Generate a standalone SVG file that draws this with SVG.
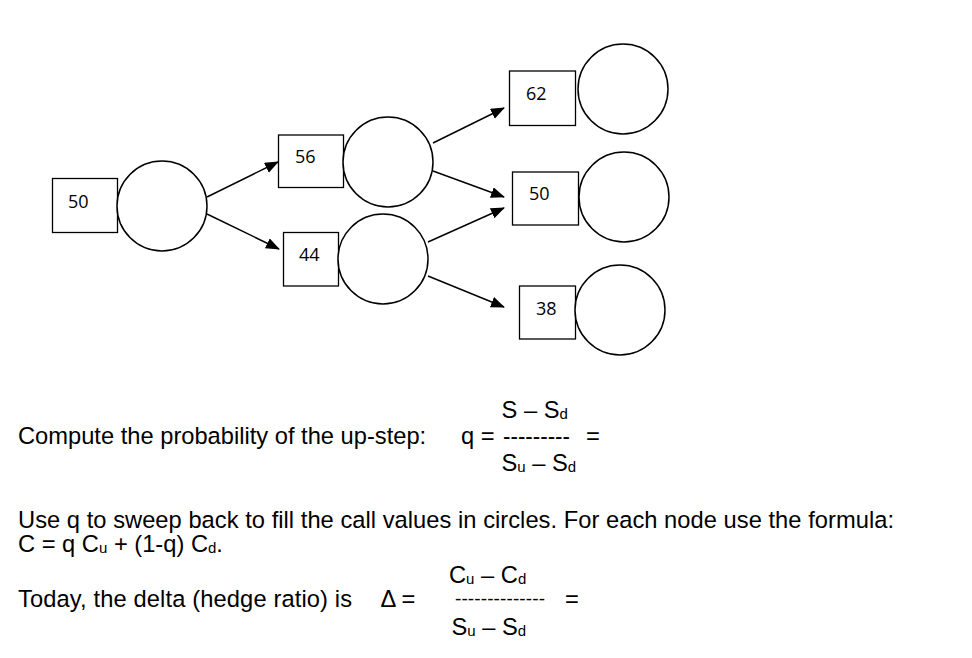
<svg xmlns="http://www.w3.org/2000/svg" width="972" height="658" viewBox="0 0 972 658">
<style>
.box{fill:#fff;stroke:#000;stroke-width:1.3}
.cir{fill:#fff;stroke:#000;stroke-width:1.5}
.num{font-family:"Open Sans","Noto Sans","DejaVu Sans",sans-serif;font-size:18px;fill:#000}
.txt{font-family:"Liberation Sans",Arial,sans-serif;font-size:23.7px;fill:#000}
.sub{font-size:15px}
.dash{font-family:"Liberation Sans",Arial,sans-serif;font-size:19px;fill:#000}
.edge{stroke:#000;stroke-width:1.4;fill:none;marker-end:url(#ah)}
</style>
<defs>
<marker id="ah" markerUnits="userSpaceOnUse" markerWidth="14" markerHeight="12" refX="13" refY="5.5" orient="auto" viewBox="0 0 14 12">
<path d="M0,0 L14,5.5 L0,11 z" fill="#000"/>
</marker>
</defs>
<rect width="972" height="658" fill="#fff"/>
<g id="connectors">
<line class="edge" x1="207" y1="197" x2="278" y2="162"/>
<line class="edge" x1="207" y1="214" x2="279" y2="249"/>
<line class="edge" x1="433" y1="143" x2="504" y2="108"/>
<line class="edge" x1="433" y1="171" x2="504" y2="197"/>
<line class="edge" x1="428" y1="242" x2="504" y2="208"/>
<line class="edge" x1="428" y1="276" x2="504" y2="307"/>
</g>
<g id="n0">
<rect class="box" x="52.5" y="178.5" width="65" height="54"/>
<text class="num" x="68" y="208">50</text>
<circle class="cir" cx="162" cy="206" r="45"/>
</g>
<g id="n1">
<rect class="box" x="278.5" y="135" width="65" height="52.5"/>
<text class="num" x="295" y="163">56</text>
<circle class="cir" cx="388" cy="162" r="45"/>
</g>
<g id="n2">
<rect class="box" x="283.5" y="232.5" width="55" height="53.5"/>
<text class="num" x="299" y="261">44</text>
<circle class="cir" cx="383" cy="259" r="45"/>
</g>
<g id="n3">
<rect class="box" x="509.5" y="71" width="66" height="54.5"/>
<text class="num" x="526" y="100">62</text>
<circle class="cir" cx="623" cy="89" r="45"/>
</g>
<g id="n4">
<rect class="box" x="512.5" y="172" width="66" height="53"/>
<text class="num" x="529" y="199.5">50</text>
<circle class="cir" cx="624" cy="197" r="45"/>
</g>
<g id="n5">
<rect class="box" x="519.5" y="286" width="56" height="53"/>
<text class="num" x="536" y="314.5">38</text>
<circle class="cir" cx="620" cy="310" r="45"/>
</g>
<g id="text">
<text class="txt" x="501.5" y="418">S – S<tspan class="sub" dy="1">d</tspan></text>
<text class="txt" x="18" y="444">Compute the probability of the up-step:</text>
<text class="txt" x="461" y="444">q =</text>
<text class="txt" x="503" y="444" textLength="67" lengthAdjust="spacingAndGlyphs">---------</text>
<text class="txt" x="586" y="444">=</text>
<text class="txt" x="501.5" y="471">S<tspan class="sub" dy="1">u</tspan><tspan dy="-1"> – S</tspan><tspan class="sub" dy="1">d</tspan></text>
<text class="txt" x="18" y="528" textLength="876">Use q to sweep back to fill the call values in circles. For each node use the formula:</text>
<text class="txt" x="18" y="552">C = q C<tspan class="sub" dy="1">u</tspan><tspan dy="-1"> + (1-q) C</tspan><tspan class="sub" dy="1">d</tspan><tspan dy="-1">.</tspan></text>
<text class="txt" x="449" y="583">C<tspan class="sub" dy="1">u</tspan><tspan dy="-1"> – C</tspan><tspan class="sub" dy="1">d</tspan></text>
<text class="txt" x="18" y="607" textLength="334">Today, the delta (hedge ratio) is</text>
<text class="txt" x="380.5" y="607">Δ =</text>
<text class="dash" x="455" y="605" textLength="90" lengthAdjust="spacing">--------------</text>
<text class="txt" x="565" y="607">=</text>
<text class="txt" x="451.5" y="635">S<tspan class="sub" dy="1">u</tspan><tspan dy="-1"> – S</tspan><tspan class="sub" dy="1">d</tspan></text>
</g>
</svg>
